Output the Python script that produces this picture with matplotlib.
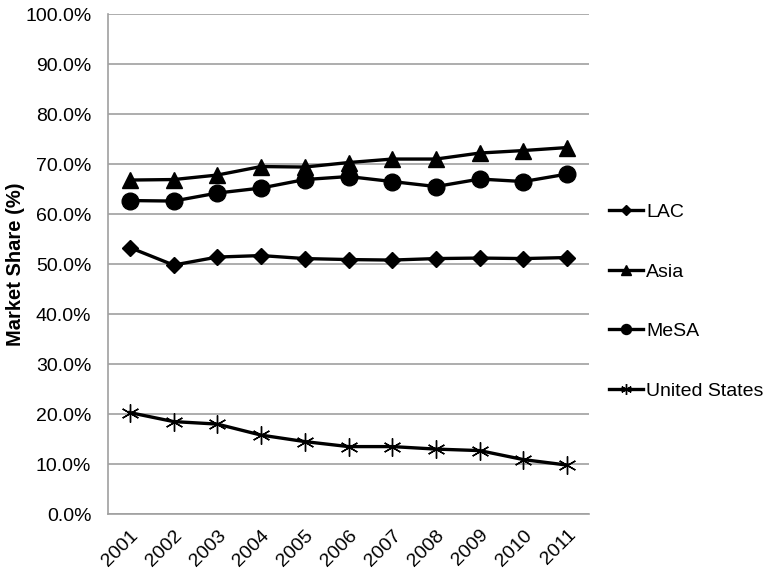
import matplotlib.pyplot as plt
from matplotlib.ticker import FuncFormatter

plt.rcParams['font.family'] = ['Liberation Sans', 'DejaVu Sans']

years = ["2001", "2002", "2003", "2004", "2005", "2006", "2007", "2008", "2009", "2010", "2011"]
lac = [53.3, 49.8, 51.4, 51.7, 51.1, 50.9, 50.8, 51.1, 51.2, 51.1, 51.3]
asia = [66.8, 66.9, 67.8, 69.5, 69.4, 70.3, 71.0, 71.0, 72.2, 72.7, 73.3]
mesa = [62.7, 62.6, 64.2, 65.2, 66.9, 67.5, 66.5, 65.5, 67.0, 66.5, 68.0]
us = [20.3, 18.5, 18.0, 15.8, 14.5, 13.5, 13.5, 13.0, 12.7, 10.9, 9.8]

fig = plt.figure(figsize=(7.69, 5.77), dpi=100)
ax = fig.add_axes([0.1404, 0.109, 0.6256, 0.8667])

x = range(len(years))
ax.plot(x, lac, color='black', lw=2.4, marker='D', ms=8, label='LAC')
ax.plot(x, asia, color='black', lw=2.4, marker='^', ms=11, label='Asia')
ax.plot(x, mesa, color='black', lw=2.4, marker='o', ms=12, label='MeSA')
ax.plot(x, us, color='black', lw=2.4, marker=(6, 2, 0), ms=13, mew=1.0,
        label='United States')

ax.set_xlim(-0.5, len(years) - 0.5)
ax.set_ylim(0, 100)
ax.set_yticks(range(0, 101, 10))
ax.yaxis.set_major_formatter(FuncFormatter(lambda v, p: f"{v:.1f}%"))
ax.set_xticks(list(x))
ax.set_xticklabels(years, rotation=45, ha='right', rotation_mode='anchor')
ax.tick_params(axis='both', length=0, labelsize=14, colors='black')
ax.tick_params(axis='x', pad=9)
ax.tick_params(axis='y', pad=12)

ax.grid(axis='y', color='#a0a0a0', lw=1.2)
ax.set_axisbelow(True)
for s in ['top', 'right']:
    ax.spines[s].set_visible(False)
for s in ['left', 'bottom']:
    ax.spines[s].set_color('#a0a0a0')
    ax.spines[s].set_linewidth(1.2)

ax.set_ylabel('Market Share (%)', fontsize=14.5, fontweight='bold')
ax.yaxis.set_label_coords(-0.172, 0.5)

leg = ax.legend(loc='center left', bbox_to_anchor=(1.0, 0.425), frameon=False,
                fontsize=14, labelspacing=2.15, handlelength=1.75, handletextpad=0.15,
                markerscale=0.6, borderaxespad=0.65)

fig.savefig('out.png', dpi=100)
